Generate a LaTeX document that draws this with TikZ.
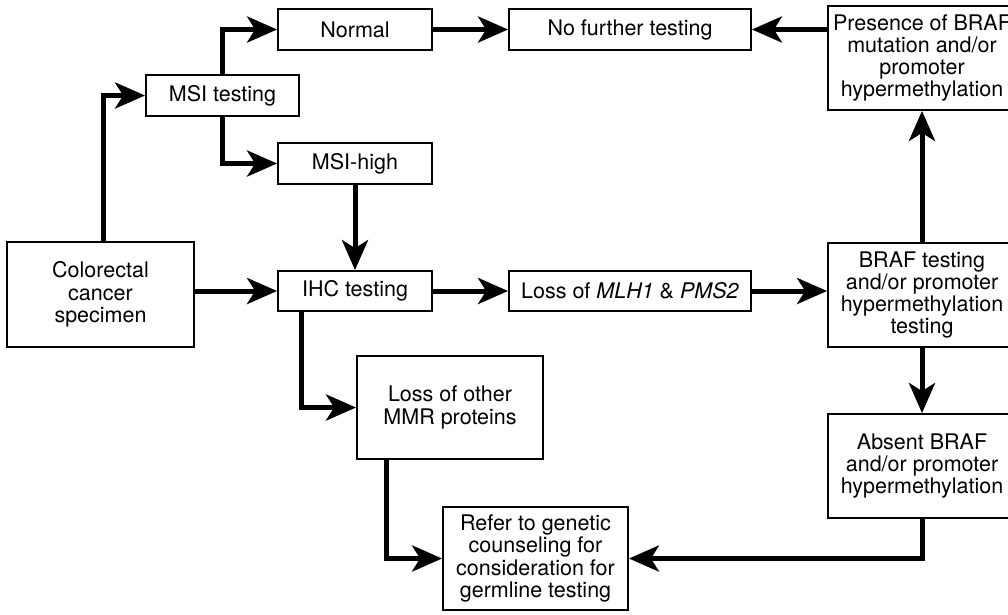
\documentclass[tikz,border=0pt]{standalone}
\usepackage{fontspec}
\setmainfont{TeX Gyre Heros}
\usetikzlibrary{arrows.meta}
\tikzset{
  box/.style={draw=black, line width=1.8pt, fill=white, inner sep=0pt, align=center,
    font=\fontsize{21.5}{22.3}\selectfont},
  conn/.style={line width=5pt, -{Stealth[length=30pt, width=26pt, inset=8pt]}},
}
\begin{document}
\begin{tikzpicture}[x=1pt, y=-1pt]
\clip (0,0) rectangle (1008,614);
\fill[white] (0,0) rectangle (1008,614);
\node[box, minimum width=154pt, minimum height=41pt] (norm) at (355,29.5) {Normal};
\node[box, minimum width=242pt, minimum height=41pt] (nft) at (630,29.5) {No further testing};
\node[box, minimum width=188pt, minimum height=104pt] (pres) at (922,58) {Presence of BRAF\\mutation and/or\\promoter\\hypermethylation};
\node[box, minimum width=153pt, minimum height=41pt] (msi) at (222.5,95.5) {MSI testing};
\node[box, minimum width=154pt, minimum height=41pt] (high) at (355,163.5) {MSI-high};
\node[box, minimum width=187pt, minimum height=105pt] (crc) at (100.5,294.5) {Colorectal\\cancer\\specimen};
\node[box, minimum width=154pt, minimum height=40pt] (ihc) at (355,291) {IHC testing};
\node[box, minimum width=242pt, minimum height=40pt] (mlh) at (630,291) {Loss of \textit{MLH1} \& \textit{PMS2}};
\node[box, minimum width=188pt, minimum height=104pt] (braf) at (922,295) {BRAF testing\\and/or promoter\\hypermethylation\\testing};
\node[box, minimum width=186pt, minimum height=103pt] (other) at (450,407.5) {Loss of other\\MMR proteins};
\node[box, minimum width=188pt, minimum height=104pt] (absent) at (922,466) {Absent BRAF\\and/or promoter\\hypermethylation};
\node[box, minimum width=185pt, minimum height=103pt] (refer) at (535.5,558.5) {Refer to genetic\\counseling for\\consideration for\\germline testing};

\draw[conn] ([xshift=2.5pt]crc.north) |- (msi.west);
\draw[conn] (msi.north) |- (norm.west);
\draw[conn] (msi.south) |- (high.west);
\draw[conn] (norm) -- (nft);
\draw[conn] (pres.west |- nft.east) -- (nft.east);
\draw[conn] (high.south) -- (ihc.north);
\draw[conn] (crc.east |- ihc.west) -- (ihc.west);
\draw[conn] (ihc) -- (mlh);
\draw[conn] (mlh.east) -- (mlh.east -| braf.west);
\draw[conn] (braf) -- (pres);
\draw[conn] (braf) -- (absent);
\draw[conn] ([xshift=24pt]ihc.south west) |- (other.west);
\draw[conn] ([xshift=30pt]other.south west) |- (refer.west);
\draw[conn] (absent.south) |- (refer.east);
\end{tikzpicture}
\end{document}
